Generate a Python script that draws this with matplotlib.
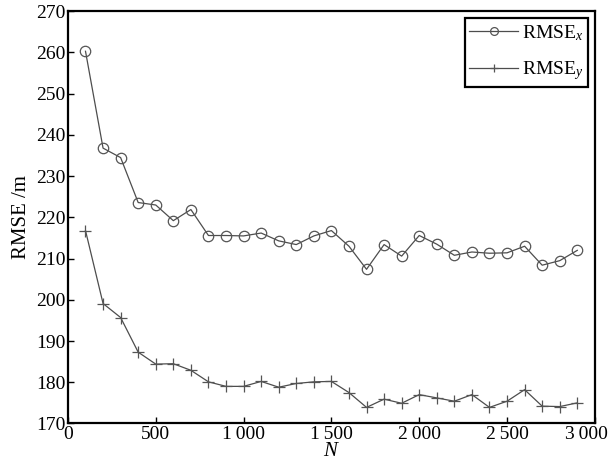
import numpy as np
import matplotlib.pyplot as plt
import matplotlib.transforms as mtransforms
from matplotlib.ticker import FuncFormatter

plt.rcParams['font.family'] = ['Liberation Serif', 'DejaVu Serif']
plt.rcParams['mathtext.fontset'] = 'custom'
plt.rcParams['mathtext.rm'] = 'Liberation Serif'
plt.rcParams['mathtext.it'] = 'Liberation Serif:italic'

# particle counts
n = [100, 200, 300, 400, 500, 600, 700, 800, 900, 1000,
     1100, 1200, 1300, 1400, 1500, 1600, 1700, 1800, 1900, 2000,
     2100, 2200, 2300, 2400, 2500, 2600, 2700, 2800, 2900]

rmse_x = [260.3, 236.8, 234.5, 223.6, 223.0, 219.2, 221.9, 215.6, 215.6, 215.5,
          216.2, 214.3, 213.4, 215.5, 216.8, 213.0, 207.4, 213.4, 210.6, 215.6,
          213.5, 210.8, 211.6, 211.3, 211.4, 213.0, 208.4, 209.5, 212.0]

rmse_y = [216.8, 199.1, 195.7, 187.3, 184.4, 184.5, 182.9, 180.1, 179.0, 179.0,
          180.2, 178.8, 179.7, 180.1, 180.2, 177.5, 173.9, 175.9, 174.9, 177.0,
          176.2, 175.4, 177.0, 173.9, 175.4, 178.2, 174.2, 174.1, 175.0]

fig = plt.figure(figsize=(6.12, 4.70), dpi=100)
ax = fig.add_axes([0.111, 0.099, 0.861, 0.877])

line_col = '#4d4d4d'
ax.plot(n, rmse_x, color=line_col, lw=0.9, marker='o', ms=7.5,
        mfc='none', mec='#555555', mew=0.9, label='RMSE$_x$')
ax.plot(n, rmse_y, color=line_col, lw=0.9, marker='+', ms=8,
        mec='#555555', mew=0.9, label='RMSE$_y$')

ax.set_xlim(0, 3000)
ax.set_ylim(170, 270)
ax.set_xticks([0, 500, 1000, 1500, 2000, 2500, 3000])
ax.set_yticks(np.arange(170, 271, 10))
# thousands separated by a thin space, e.g. "1 000"
ax.xaxis.set_major_formatter(FuncFormatter(lambda v, p: f'{int(v):,}'.replace(',', '\u2009')))

ax.tick_params(direction='in', length=4, width=1, labelsize=14, pad=2,
               top=False, right=False, colors='black')
for s in ax.spines.values():
    s.set_linewidth(1.6)

# pull the last x label in so it stays inside the figure
last = ax.get_xticklabels()[-1]
last.set_transform(last.get_transform() +
                   mtransforms.ScaledTranslation(-8 / 100, 0, fig.dpi_scale_trans))

ax.set_xlabel('$N$', fontsize=15, labelpad=-1)
ax.set_ylabel('RMSE /m', fontsize=15, labelpad=3)

leg = ax.legend(loc='upper right', fontsize=14, fancybox=False, framealpha=1,
                edgecolor='black', handlelength=2.5, handletextpad=0.2,
                borderpad=0.25, labelspacing=0.85, borderaxespad=0.35,
                markerscale=0.75)
leg.get_frame().set_linewidth(1.6)

fig.savefig('out.png', dpi=100)
